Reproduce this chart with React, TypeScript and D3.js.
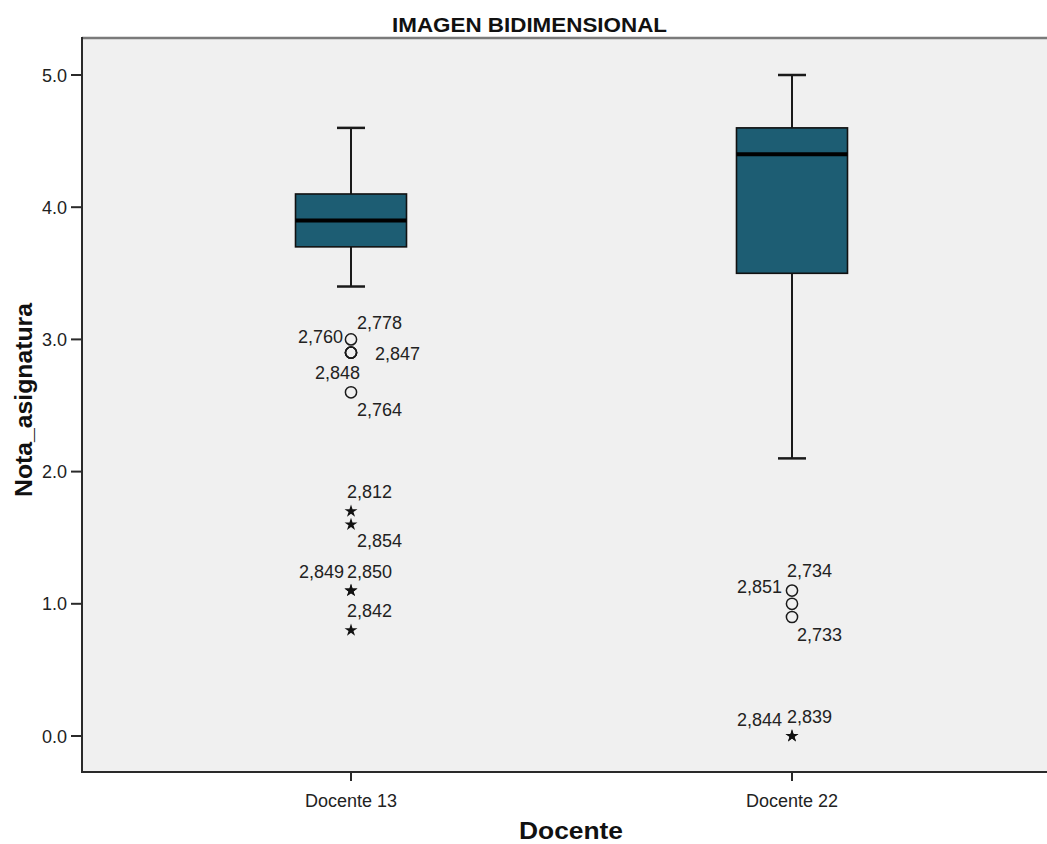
import React from "react";
import * as d3 from "d3";

// Groups on the x axis
const categories = ["Docente 13", "Docente 22"];

// Five-number summaries per group (whisker low, Q1, median, Q3, whisker high)
const whiskerLow = [3.4, 2.1];
const q1 = [3.7, 3.5];
const median = [3.9, 4.4];
const q3 = [4.1, 4.6];
const whiskerHigh = [4.6, 5.0];

// Outlying cases: group, value, case label, kind (o = outlier, * = extreme)
const outlierGroup = [
  "Docente 13", "Docente 13", "Docente 13", "Docente 13", "Docente 13",
  "Docente 13", "Docente 13", "Docente 13", "Docente 13", "Docente 13",
  "Docente 22", "Docente 22", "Docente 22", "Docente 22", "Docente 22",
];
const outlierValue = [3.0, 2.9, 2.9, 2.9, 2.6, 1.7, 1.6, 1.1, 1.1, 0.8, 1.1, 1.0, 0.9, 0.0, 0.0];
const outlierCase = [
  "2,778", "2,760", "2,847", "2,848", "2,764",
  "2,812", "2,854", "2,849", "2,850", "2,842",
  "2,734", "2,851", "2,733", "2,844", "2,839",
];
const outlierKind = ["o", "o", "o", "o", "o", "*", "*", "*", "*", "*", "o", "o", "o", "*", "*"];

// Y axis tick values
const yTicks = [0, 1, 2, 3, 4, 5];

// Where each case label sits relative to its symbol
const labelPlacement: Record<string, { dx: number; dy: number; anchor: string }> = {
  "2,778": { dx: 6, dy: -17, anchor: "start" },
  "2,760": { dx: -8, dy: -16, anchor: "end" },
  "2,847": { dx: 24, dy: 1, anchor: "start" },
  "2,848": { dx: 9, dy: 20, anchor: "end" },
  "2,764": { dx: 6, dy: 17, anchor: "start" },
  "2,812": { dx: -4, dy: -20, anchor: "start" },
  "2,854": { dx: 6, dy: 16, anchor: "start" },
  "2,849": { dx: -7, dy: -19, anchor: "end" },
  "2,850": { dx: -4, dy: -19, anchor: "start" },
  "2,842": { dx: -4, dy: -20, anchor: "start" },
  "2,734": { dx: -5, dy: -20, anchor: "start" },
  "2,851": { dx: -10, dy: -17, anchor: "end" },
  "2,733": { dx: 5, dy: 17, anchor: "start" },
  "2,844": { dx: -10, dy: -17, anchor: "end" },
  "2,839": { dx: -5, dy: -20, anchor: "start" },
};

const W = 1047;
const H = 844;
const plot = { left: 82, top: 38, right: 1061, bottom: 772 };
const FONT = "Arial, 'Liberation Sans', Helvetica, sans-serif";
const BOX_FILL = "#1d5d73";

export default function App() {
  const x = d3
    .scalePoint<string>()
    .domain(categories)
    .range([plot.left, plot.right])
    .padding(0.61);
  const y = d3.scaleLinear().domain([0, 5]).range([736, 75]);

  const boxW = 111;
  const capW = 28;
  const star = d3.symbol().type(d3.symbolStar).size(52)();

  return (
    <svg
      width={W}
      height={H}
      style={{ position: "absolute", left: 0, top: 0, display: "block", background: "#fff" }}
      fontFamily={FONT}
    >
      {/* plot background and frame */}
      <rect
        x={plot.left}
        y={plot.top}
        width={plot.right - plot.left}
        height={plot.bottom - plot.top}
        fill="#f0f0f0"
      />
      <line x1={plot.left} x2={W} y1={plot.top} y2={plot.top} stroke="#7a7a7a" strokeWidth={2.4} />
      <line x1={plot.left} x2={plot.left} y1={plot.top - 1} y2={plot.bottom} stroke="#2a2a2a" strokeWidth={2} />
      <line x1={plot.left - 1} x2={W} y1={plot.bottom} y2={plot.bottom} stroke="#2a2a2a" strokeWidth={2} />

      {/* title */}
      <text
        x={529.5}
        y={32}
        textAnchor="middle"
        fontWeight="bold"
        fontSize={21}
        textLength={275}
        lengthAdjust="spacingAndGlyphs"
        fill="#111"
      >
        IMAGEN BIDIMENSIONAL
      </text>

      {/* y axis */}
      {yTicks.map((t) => (
        <g key={t}>
          <line x1={plot.left - 11} x2={plot.left} y1={y(t)} y2={y(t)} stroke="#2a2a2a" strokeWidth={2} />
          <text x={plot.left - 15} y={y(t) + 6.5} textAnchor="end" fontSize={18} fill="#222">
            {t.toFixed(1)}
          </text>
        </g>
      ))}
      <text
        transform={`translate(32,400) rotate(-90)`}
        textAnchor="middle"
        fontWeight="bold"
        fontSize={24}
        textLength={194}
        lengthAdjust="spacingAndGlyphs"
        fill="#111"
      >
        Nota_asignatura
      </text>

      {/* x axis */}
      {categories.map((c) => (
        <g key={c}>
          <line x1={x(c)} x2={x(c)} y1={plot.bottom} y2={plot.bottom + 9} stroke="#2a2a2a" strokeWidth={2} />
          <text x={x(c)} y={807} textAnchor="middle" fontSize={18} fill="#222">
            {c}
          </text>
        </g>
      ))}
      <text
        x={571}
        y={839}
        textAnchor="middle"
        fontWeight="bold"
        fontSize={24}
        textLength={104}
        lengthAdjust="spacingAndGlyphs"
        fill="#111"
      >
        Docente
      </text>

      {/* boxes */}
      {categories.map((c, i) => {
        const cx = x(c) as number;
        return (
          <g key={c}>
            <line x1={cx} x2={cx} y1={y(whiskerHigh[i])} y2={y(q3[i])} stroke="#1a1a1a" strokeWidth={2} />
            <line x1={cx} x2={cx} y1={y(q1[i])} y2={y(whiskerLow[i])} stroke="#1a1a1a" strokeWidth={2} />
            <line
              x1={cx - capW / 2}
              x2={cx + capW / 2}
              y1={y(whiskerHigh[i])}
              y2={y(whiskerHigh[i])}
              stroke="#1a1a1a"
              strokeWidth={2.5}
            />
            <line
              x1={cx - capW / 2}
              x2={cx + capW / 2}
              y1={y(whiskerLow[i])}
              y2={y(whiskerLow[i])}
              stroke="#1a1a1a"
              strokeWidth={2.5}
            />
            <rect
              x={cx - boxW / 2}
              y={y(q3[i])}
              width={boxW}
              height={y(q1[i]) - y(q3[i])}
              fill={BOX_FILL}
              stroke="#111"
              strokeWidth={1.6}
            />
            <line
              x1={cx - boxW / 2}
              x2={cx + boxW / 2}
              y1={y(median[i])}
              y2={y(median[i])}
              stroke="#000"
              strokeWidth={4}
            />
          </g>
        );
      })}

      {/* outliers and extremes with case labels */}
      {outlierValue.map((v, i) => {
        const cx = x(outlierGroup[i]) as number;
        const cy = y(v);
        const p = labelPlacement[outlierCase[i]];
        return (
          <g key={outlierCase[i]}>
            {outlierKind[i] === "o" ? (
              <circle cx={cx} cy={cy} r={5.6} fill="none" stroke="#1a1a1a" strokeWidth={1.5} />
            ) : (
              <path d={star as string} transform={`translate(${cx},${cy})`} fill="#111" />
            )}
            <text
              x={cx + p.dx}
              y={cy + p.dy + 6.5}
              textAnchor={p.anchor}
              fontSize={18}
              fill="#222"
            >
              {outlierCase[i]}
            </text>
          </g>
        );
      })}
    </svg>
  );
}
